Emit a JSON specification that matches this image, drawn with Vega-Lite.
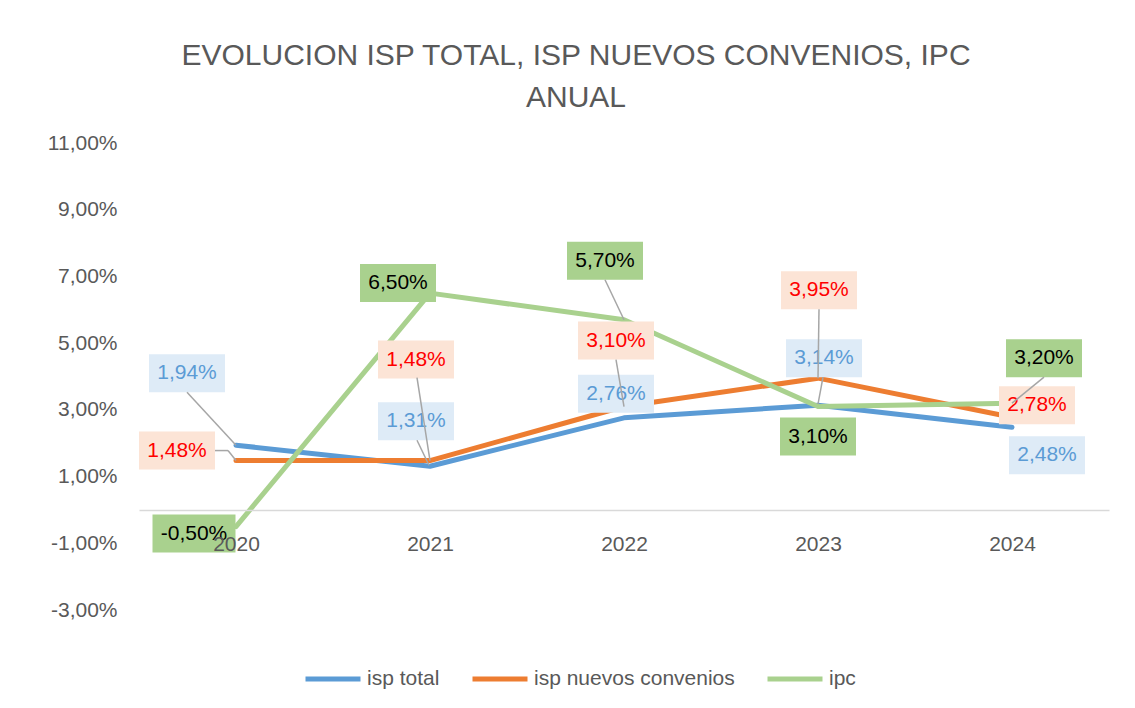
{
  "$schema": "https://vega.github.io/schema/vega-lite/v6.json",
  "autosize": {"type": "none"},
  "padding": {"left": 139, "top": 143, "right": 26, "bottom": 98},
  "width": 970,
  "height": 467,
  "background": "white",
  "title": {
    "text": ["EVOLUCION ISP TOTAL, ISP NUEVOS CONVENIOS, IPC", "ANUAL"],
    "anchor": "middle",
    "dx": -48,
    "offset": 19,
    "lineHeight": 42,
    "fontSize": 30,
    "fontWeight": "normal",
    "font": "Liberation Sans",
    "color": "#595959"
  },
  "data": {
    "values": [
      {"year": "2020", "serie": "isp total", "v": 1.94},
      {"year": "2021", "serie": "isp total", "v": 1.31},
      {"year": "2022", "serie": "isp total", "v": 2.76},
      {"year": "2023", "serie": "isp total", "v": 3.14},
      {"year": "2024", "serie": "isp total", "v": 2.48},
      {"year": "2020", "serie": "isp nuevos convenios", "v": 1.48},
      {"year": "2021", "serie": "isp nuevos convenios", "v": 1.48},
      {"year": "2022", "serie": "isp nuevos convenios", "v": 3.10},
      {"year": "2023", "serie": "isp nuevos convenios", "v": 3.95},
      {"year": "2024", "serie": "isp nuevos convenios", "v": 2.78},
      {"year": "2020", "serie": "ipc", "v": -0.50},
      {"year": "2021", "serie": "ipc", "v": 6.50},
      {"year": "2022", "serie": "ipc", "v": 5.70},
      {"year": "2023", "serie": "ipc", "v": 3.10},
      {"year": "2024", "serie": "ipc", "v": 3.20}
    ]
  },
  "transform": [
    {"calculate": "(datum.v<0?'-':'')+replace(format(abs(datum.v),'.2f'),'.',',')+'%'", "as": "lbl"}
  ],
  "encoding": {
    "x": {
      "field": "year", "type": "ordinal",
      "scale": {"type": "point", "padding": 0.5},
      "axis": {
        "title": null, "labelAngle": 0, "offset": -100,
        "domainColor": "#D9D9D9", "domainWidth": 1.5,
        "ticks": false, "tickSize": 0, "grid": false,
        "labelFontSize": 21, "labelColor": "#595959", "labelFont": "Liberation Sans",
        "labelPadding": 23, "zindex": 1
      }
    },
    "y": {
      "field": "v", "type": "quantitative",
      "scale": {"domain": [-3, 11], "nice": false, "zero": false},
      "axis": {
        "title": null, "values": [-3, -1, 1, 3, 5, 7, 9, 11],
        "domain": false, "ticks": false, "tickSize": 0, "grid": false,
        "labelFontSize": 21, "labelColor": "#595959", "labelFont": "Liberation Sans",
        "labelPadding": 22,
        "labelExpr": "(datum.value<0?'-':'')+replace(format(abs(datum.value),'.2f'),'.',',')+'%'"
      }
    }
  },
  "layer": [
    {
      "mark": {"type": "line", "strokeWidth": 5, "strokeCap": "round", "strokeJoin": "round"},
      "encoding": {
        "color": {
          "field": "serie", "type": "nominal",
          "scale": {"domain": ["isp total", "isp nuevos convenios", "ipc"], "range": ["#5B9BD5", "#ED7D31", "#A9D18E"]},
          "legend": {
            "orient": "none", "legendX": 164, "legendY": 506, "direction": "horizontal",
            "title": null, "symbolType": "stroke", "symbolSize": 3025, "symbolStrokeWidth": 5,
            "labelFontSize": 21, "labelColor": "#595959", "labelFont": "Liberation Sans",
            "labelOffset": 4, "columnPadding": 22, "labelLimit": 400
          }
        }
      }
    },
    {"transform": [{"filter": "datum.serie=='isp total' && datum.year=='2020'"}], "layer": [
      {"mark": {"type": "point", "shape": "M-1,-0.5L1,-0.5L1,0.5L-1,0.5Z", "size": 5776, "filled": true, "color": "#DEEBF7", "opacity": 1, "strokeWidth": 0, "xOffset": -49, "yOffset": -72}},
      {"mark": {"type": "text", "dx": -49, "dy": -72, "color": "#5B9BD5", "fontSize": 21, "font": "Liberation Sans", "align": "center", "baseline": "middle"}, "encoding": {"text": {"field": "lbl"}}}
    ]},
    {"transform": [{"filter": "datum.serie=='isp total' && datum.year=='2021'"}], "layer": [
      {"mark": {"type": "point", "shape": "M-1,-0.5L1,-0.5L1,0.5L-1,0.5Z", "size": 5776, "filled": true, "color": "#DEEBF7", "opacity": 1, "strokeWidth": 0, "xOffset": -14, "yOffset": -45}},
      {"mark": {"type": "text", "dx": -14, "dy": -45, "color": "#5B9BD5", "fontSize": 21, "font": "Liberation Sans", "align": "center", "baseline": "middle"}, "encoding": {"text": {"field": "lbl"}}}
    ]},
    {"transform": [{"filter": "datum.serie=='isp total' && datum.year=='2022'"}], "layer": [
      {"mark": {"type": "point", "shape": "M-1,-0.5L1,-0.5L1,0.5L-1,0.5Z", "size": 5776, "filled": true, "color": "#DEEBF7", "opacity": 1, "strokeWidth": 0, "xOffset": -8, "yOffset": -24}},
      {"mark": {"type": "text", "dx": -8, "dy": -24, "color": "#5B9BD5", "fontSize": 21, "font": "Liberation Sans", "align": "center", "baseline": "middle"}, "encoding": {"text": {"field": "lbl"}}}
    ]},
    {"transform": [{"filter": "datum.serie=='isp total' && datum.year=='2023'"}], "layer": [
      {"mark": {"type": "point", "shape": "M-1,-0.5L1,-0.5L1,0.5L-1,0.5Z", "size": 5776, "filled": true, "color": "#DEEBF7", "opacity": 1, "strokeWidth": 0, "xOffset": 6, "yOffset": -47}},
      {"mark": {"type": "text", "dx": 6, "dy": -47, "color": "#5B9BD5", "fontSize": 21, "font": "Liberation Sans", "align": "center", "baseline": "middle"}, "encoding": {"text": {"field": "lbl"}}}
    ]},
    {"transform": [{"filter": "datum.serie=='isp total' && datum.year=='2024'"}], "layer": [
      {"mark": {"type": "point", "shape": "M-1,-0.5L1,-0.5L1,0.5L-1,0.5Z", "size": 5776, "filled": true, "color": "#DEEBF7", "opacity": 1, "strokeWidth": 0, "xOffset": 35, "yOffset": 28}},
      {"mark": {"type": "text", "dx": 35, "dy": 28, "color": "#5B9BD5", "fontSize": 21, "font": "Liberation Sans", "align": "center", "baseline": "middle"}, "encoding": {"text": {"field": "lbl"}}}
    ]},
    {"transform": [{"filter": "datum.serie=='isp nuevos convenios' && datum.year=='2020'"}], "layer": [
      {"mark": {"type": "point", "shape": "M-1,-0.5L1,-0.5L1,0.5L-1,0.5Z", "size": 5776, "filled": true, "color": "#FCE4D6", "opacity": 1, "strokeWidth": 0, "xOffset": -59, "yOffset": -10}},
      {"mark": {"type": "text", "dx": -59, "dy": -10, "color": "#FF0000", "fontSize": 21, "font": "Liberation Sans", "align": "center", "baseline": "middle"}, "encoding": {"text": {"field": "lbl"}}}
    ]},
    {"transform": [{"filter": "datum.serie=='isp nuevos convenios' && datum.year=='2021'"}], "layer": [
      {"mark": {"type": "point", "shape": "M-1,-0.5L1,-0.5L1,0.5L-1,0.5Z", "size": 5776, "filled": true, "color": "#FCE4D6", "opacity": 1, "strokeWidth": 0, "xOffset": -14, "yOffset": -101}},
      {"mark": {"type": "text", "dx": -14, "dy": -101, "color": "#FF0000", "fontSize": 21, "font": "Liberation Sans", "align": "center", "baseline": "middle"}, "encoding": {"text": {"field": "lbl"}}}
    ]},
    {"transform": [{"filter": "datum.serie=='isp nuevos convenios' && datum.year=='2022'"}], "layer": [
      {"mark": {"type": "point", "shape": "M-1,-0.5L1,-0.5L1,0.5L-1,0.5Z", "size": 5776, "filled": true, "color": "#FCE4D6", "opacity": 1, "strokeWidth": 0, "xOffset": -8, "yOffset": -66}},
      {"mark": {"type": "text", "dx": -8, "dy": -66, "color": "#FF0000", "fontSize": 21, "font": "Liberation Sans", "align": "center", "baseline": "middle"}, "encoding": {"text": {"field": "lbl"}}}
    ]},
    {"transform": [{"filter": "datum.serie=='isp nuevos convenios' && datum.year=='2023'"}], "layer": [
      {"mark": {"type": "point", "shape": "M-1,-0.5L1,-0.5L1,0.5L-1,0.5Z", "size": 5776, "filled": true, "color": "#FCE4D6", "opacity": 1, "strokeWidth": 0, "xOffset": 1, "yOffset": -88}},
      {"mark": {"type": "text", "dx": 1, "dy": -88, "color": "#FF0000", "fontSize": 21, "font": "Liberation Sans", "align": "center", "baseline": "middle"}, "encoding": {"text": {"field": "lbl"}}}
    ]},
    {"transform": [{"filter": "datum.serie=='isp nuevos convenios' && datum.year=='2024'"}], "layer": [
      {"mark": {"type": "point", "shape": "M-1,-0.5L1,-0.5L1,0.5L-1,0.5Z", "size": 5776, "filled": true, "color": "#FCE4D6", "opacity": 1, "strokeWidth": 0, "xOffset": 25, "yOffset": -12}},
      {"mark": {"type": "text", "dx": 25, "dy": -12, "color": "#FF0000", "fontSize": 21, "font": "Liberation Sans", "align": "center", "baseline": "middle"}, "encoding": {"text": {"field": "lbl"}}}
    ]},
    {"transform": [{"filter": "datum.serie=='ipc' && datum.year=='2020'"}], "layer": [
      {"mark": {"type": "point", "shape": "M-1,-0.458L1,-0.458L1,0.458L-1,0.458Z", "size": 6889, "filled": true, "color": "#A9D18E", "opacity": 1, "strokeWidth": 0, "xOffset": -42, "yOffset": 7}},
      {"mark": {"type": "text", "dx": -42, "dy": 7, "color": "#000000", "fontSize": 21, "font": "Liberation Sans", "align": "center", "baseline": "middle"}, "encoding": {"text": {"field": "lbl"}}}
    ]},
    {"transform": [{"filter": "datum.serie=='ipc' && datum.year=='2021'"}], "layer": [
      {"mark": {"type": "point", "shape": "M-1,-0.5L1,-0.5L1,0.5L-1,0.5Z", "size": 5776, "filled": true, "color": "#A9D18E", "opacity": 1, "strokeWidth": 0, "xOffset": -32, "yOffset": -10}},
      {"mark": {"type": "text", "dx": -32, "dy": -10, "color": "#000000", "fontSize": 21, "font": "Liberation Sans", "align": "center", "baseline": "middle"}, "encoding": {"text": {"field": "lbl"}}}
    ]},
    {"transform": [{"filter": "datum.serie=='ipc' && datum.year=='2022'"}], "layer": [
      {"mark": {"type": "point", "shape": "M-1,-0.5L1,-0.5L1,0.5L-1,0.5Z", "size": 5776, "filled": true, "color": "#A9D18E", "opacity": 1, "strokeWidth": 0, "xOffset": -19, "yOffset": -59}},
      {"mark": {"type": "text", "dx": -19, "dy": -59, "color": "#000000", "fontSize": 21, "font": "Liberation Sans", "align": "center", "baseline": "middle"}, "encoding": {"text": {"field": "lbl"}}}
    ]},
    {"transform": [{"filter": "datum.serie=='ipc' && datum.year=='2023'"}], "layer": [
      {"mark": {"type": "point", "shape": "M-1,-0.5L1,-0.5L1,0.5L-1,0.5Z", "size": 5776, "filled": true, "color": "#A9D18E", "opacity": 1, "strokeWidth": 0, "xOffset": 0, "yOffset": 30}},
      {"mark": {"type": "text", "dx": 0, "dy": 30, "color": "#000000", "fontSize": 21, "font": "Liberation Sans", "align": "center", "baseline": "middle"}, "encoding": {"text": {"field": "lbl"}}}
    ]},
    {"transform": [{"filter": "datum.serie=='ipc' && datum.year=='2024'"}], "layer": [
      {"mark": {"type": "point", "shape": "M-1,-0.5L1,-0.5L1,0.5L-1,0.5Z", "size": 5776, "filled": true, "color": "#A9D18E", "opacity": 1, "strokeWidth": 0, "xOffset": 32, "yOffset": -45}},
      {"mark": {"type": "text", "dx": 32, "dy": -45, "color": "#000000", "fontSize": 21, "font": "Liberation Sans", "align": "center", "baseline": "middle"}, "encoding": {"text": {"field": "lbl"}}}
    ]},
    {"transform": [{"filter": "datum.serie=='isp total' && datum.year=='2020'"}],
     "mark": {"type": "rule", "color": "#A6A6A6", "strokeWidth": 1.5, "xOffset": 0, "yOffset": 0, "x2Offset": -49, "y2Offset": -53},
     "encoding": {"x2": {"field": "year"}, "y2": {"field": "v"}}},
    {"transform": [{"filter": "datum.serie=='isp total' && datum.year=='2021'"}],
     "mark": {"type": "rule", "color": "#A6A6A6", "strokeWidth": 1.5, "xOffset": -1, "yOffset": -1, "x2Offset": -13, "y2Offset": -26},
     "encoding": {"x2": {"field": "year"}, "y2": {"field": "v"}}},
    {"transform": [{"filter": "datum.serie=='isp total' && datum.year=='2023'"}],
     "mark": {"type": "rule", "color": "#A6A6A6", "strokeWidth": 1.5, "xOffset": 0, "yOffset": -1, "x2Offset": 5, "y2Offset": -28},
     "encoding": {"x2": {"field": "year"}, "y2": {"field": "v"}}},
    {"transform": [{"filter": "datum.serie=='isp nuevos convenios' && datum.year=='2020'"}],
     "mark": {"type": "rule", "color": "#A6A6A6", "strokeWidth": 1.5, "xOffset": 0, "yOffset": 0, "x2Offset": -8, "y2Offset": -10},
     "encoding": {"x2": {"field": "year"}, "y2": {"field": "v"}}},
    {"transform": [{"filter": "datum.serie=='isp nuevos convenios' && datum.year=='2020'"}],
     "mark": {"type": "rule", "color": "#A6A6A6", "strokeWidth": 1.5, "xOffset": -8, "yOffset": -10, "x2Offset": -21, "y2Offset": -10},
     "encoding": {"x2": {"field": "year"}, "y2": {"field": "v"}}},
    {"transform": [{"filter": "datum.serie=='isp nuevos convenios' && datum.year=='2021'"}],
     "mark": {"type": "rule", "color": "#A6A6A6", "strokeWidth": 1.5, "xOffset": 0, "yOffset": 0, "x2Offset": -13, "y2Offset": -83},
     "encoding": {"x2": {"field": "year"}, "y2": {"field": "v"}}},
    {"transform": [{"filter": "datum.serie=='isp nuevos convenios' && datum.year=='2022'"}],
     "mark": {"type": "rule", "color": "#A6A6A6", "strokeWidth": 1.5, "xOffset": 0, "yOffset": 0, "x2Offset": -8, "y2Offset": -47},
     "encoding": {"x2": {"field": "year"}, "y2": {"field": "v"}}},
    {"transform": [{"filter": "datum.serie=='isp nuevos convenios' && datum.year=='2023'"}],
     "mark": {"type": "rule", "color": "#A6A6A6", "strokeWidth": 1.5, "xOffset": 0, "yOffset": 0, "x2Offset": 1, "y2Offset": -69},
     "encoding": {"x2": {"field": "year"}, "y2": {"field": "v"}}},
    {"transform": [{"filter": "datum.serie=='ipc' && datum.year=='2022'"}],
     "mark": {"type": "rule", "color": "#A6A6A6", "strokeWidth": 1.5, "xOffset": 0, "yOffset": 0, "x2Offset": -19, "y2Offset": -40},
     "encoding": {"x2": {"field": "year"}, "y2": {"field": "v"}}},
    {"transform": [{"filter": "datum.serie=='ipc' && datum.year=='2024'"}],
     "mark": {"type": "rule", "color": "#A6A6A6", "strokeWidth": 1.5, "xOffset": 0, "yOffset": 0, "x2Offset": 32, "y2Offset": -26},
     "encoding": {"x2": {"field": "year"}, "y2": {"field": "v"}}}
  ],
  "config": {
    "view": {"stroke": null},
    "font": "Liberation Sans"
  }
}
